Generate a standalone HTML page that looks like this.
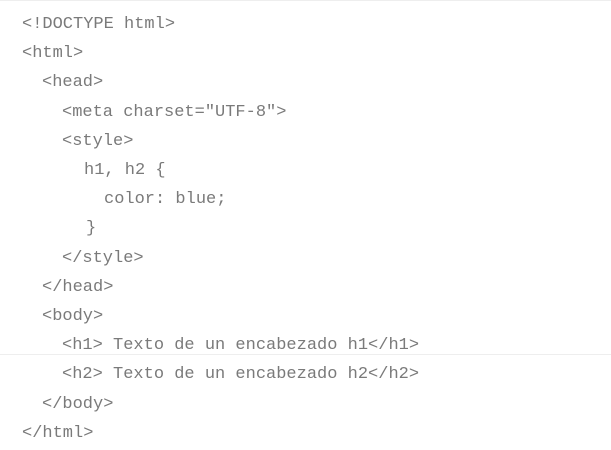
<!DOCTYPE html>
<html><head><meta charset="UTF-8"><style>
body{margin:0;width:611px;height:450px;background:#fff;overflow:hidden;position:relative}
.l{position:absolute;font-family:"Liberation Mono",monospace;font-size:17px;color:#7a7a7a;white-space:pre;line-height:20px}
.sep{position:absolute;left:0;width:611px;height:1px;background:#eee}
</style></head><body>
<div class="sep" style="top:0"></div>
<div class="sep" style="top:354px"></div>
<div class="l" style="left:22px;top:15px">&lt;!DOCTYPE html&gt;</div>
<div class="l" style="left:22px;top:44px">&lt;html&gt;</div>
<div class="l" style="left:42px;top:73px">&lt;head&gt;</div>
<div class="l" style="left:62px;top:103px">&lt;meta charset="UTF-8"&gt;</div>
<div class="l" style="left:62px;top:132px">&lt;style&gt;</div>
<div class="l" style="left:84px;top:161px">h1, h2 {</div>
<div class="l" style="left:104px;top:190px">color: blue;</div>
<div class="l" style="left:86px;top:219px">}</div>
<div class="l" style="left:62px;top:249px">&lt;/style&gt;</div>
<div class="l" style="left:42px;top:278px">&lt;/head&gt;</div>
<div class="l" style="left:42px;top:307px">&lt;body&gt;</div>
<div class="l" style="left:62px;top:336px">&lt;h1&gt; Texto de un encabezado h1&lt;/h1&gt;</div>
<div class="l" style="left:62px;top:365px">&lt;h2&gt; Texto de un encabezado h2&lt;/h2&gt;</div>
<div class="l" style="left:42px;top:395px">&lt;/body&gt;</div>
<div class="l" style="left:22px;top:424px">&lt;/html&gt;</div>
</body></html>
